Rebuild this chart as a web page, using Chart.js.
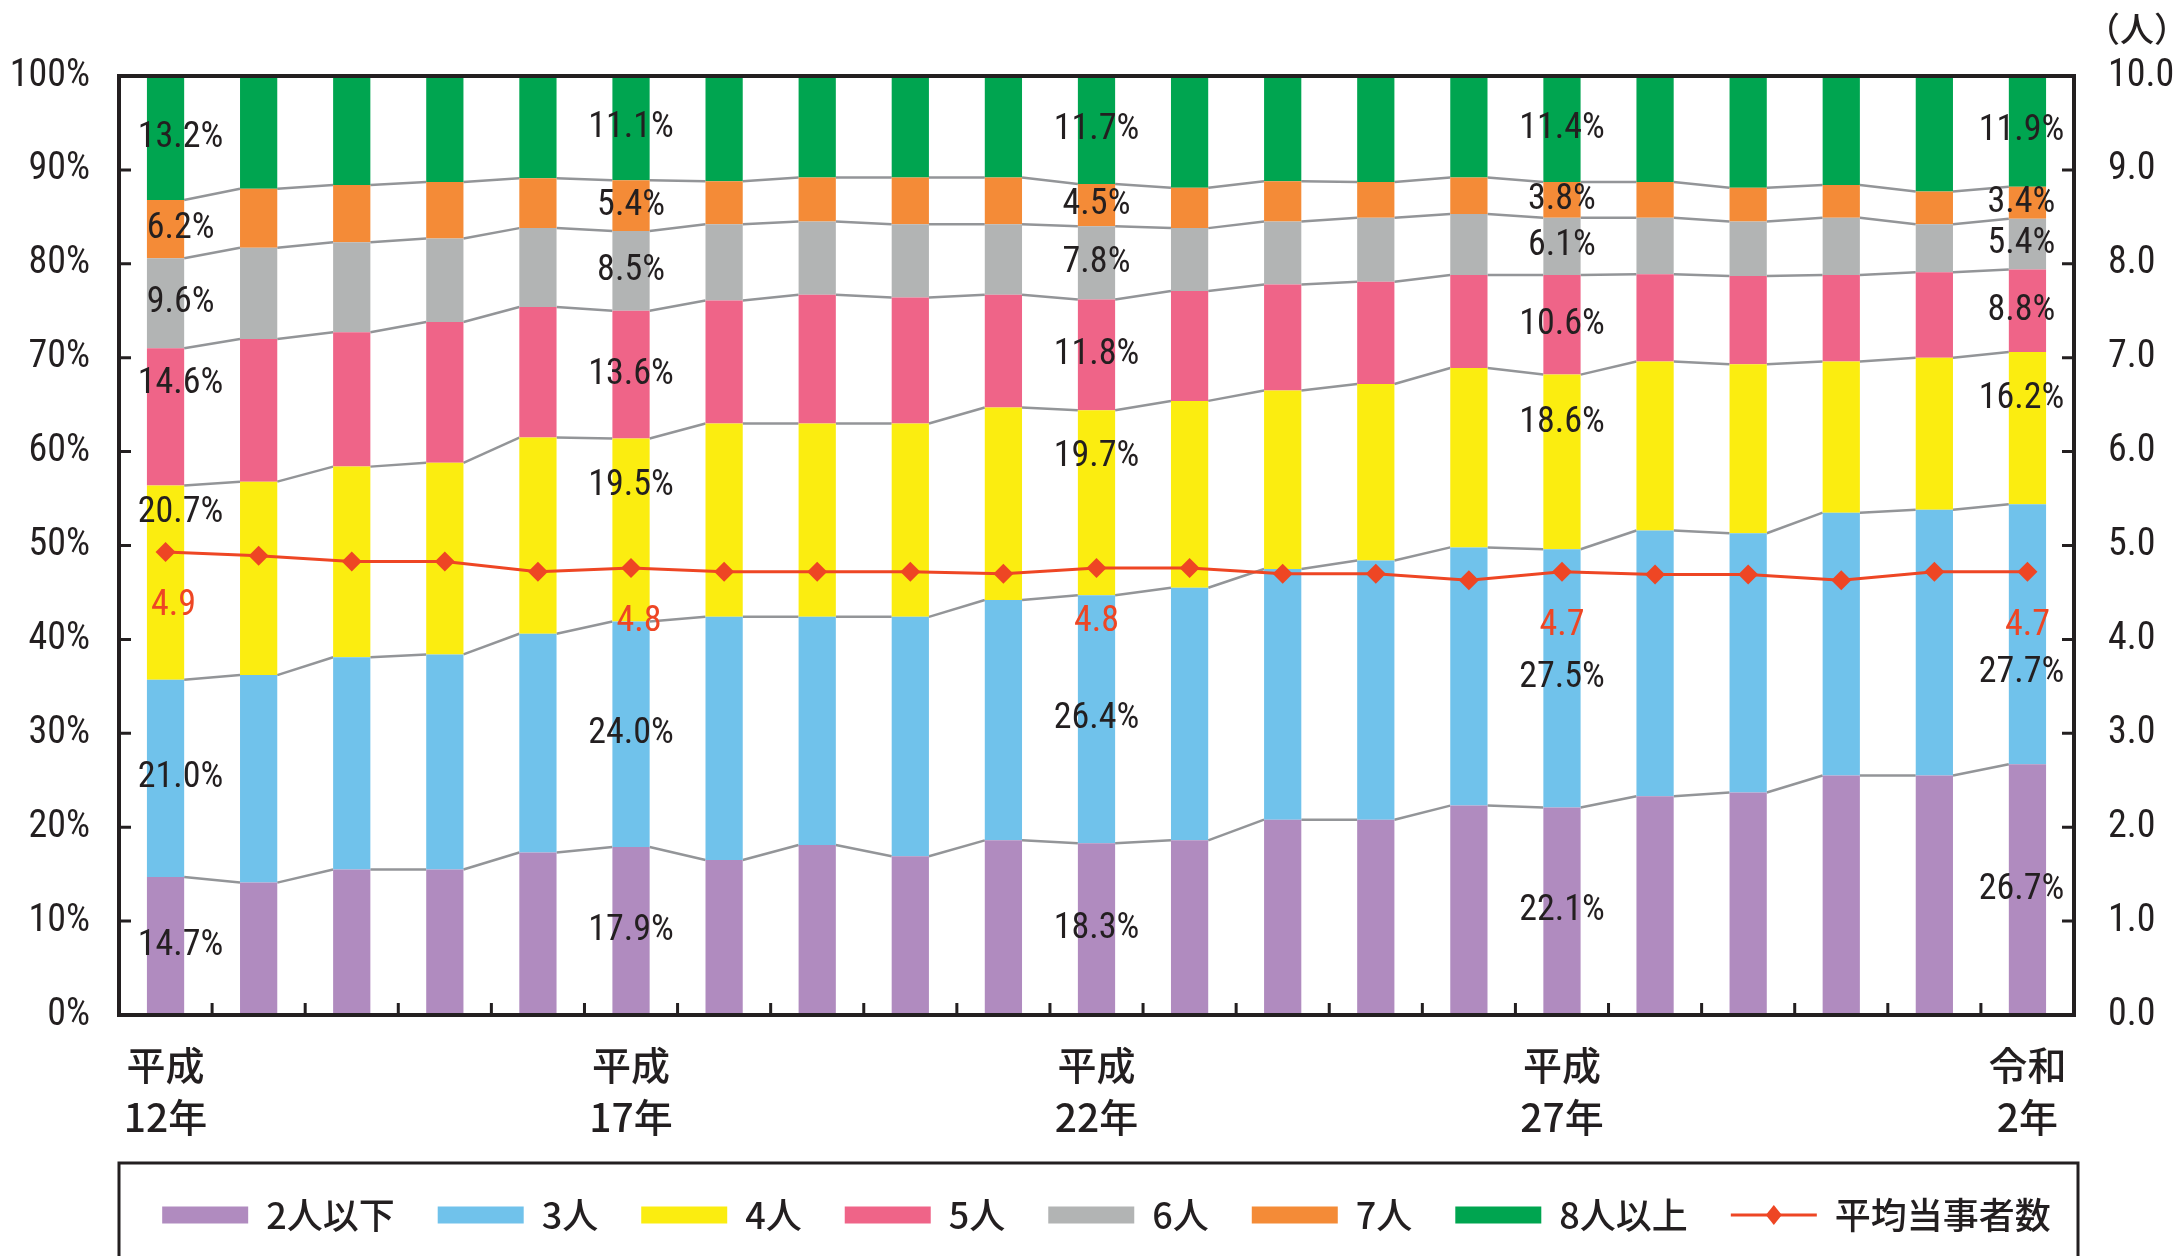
<!DOCTYPE html>
<html lang="ja">
<head>
<meta charset="utf-8">
<title>当事者数別構成比の推移</title>
<script src="https://cdn.jsdelivr.net/npm/chart.js@4.4.1/dist/chart.umd.min.js"></script>
<style>
  html, body { margin: 0; padding: 0; background: #fff; }
  #wrap { width: 2177px; height: 1256px; }
</style>
</head>
<body>
<div id="wrap"><canvas id="partyChart" width="2177" height="1256"></canvas></div>
<script>
// 年次（平成12年〜令和2年）
const years = [
    ['平成', '12年'], ['平成', '13年'], ['平成', '14年'], ['平成', '15年'], ['平成', '16年'],
    ['平成', '17年'], ['平成', '18年'], ['平成', '19年'], ['平成', '20年'], ['平成', '21年'],
    ['平成', '22年'], ['平成', '23年'], ['平成', '24年'], ['平成', '25年'], ['平成', '26年'],
    ['平成', '27年'], ['平成', '28年'], ['平成', '29年'], ['平成', '30年'], ['令和', '元年'],
    ['令和', '2年']
];

// 構成比（%）
const twoOrLess = [14.7, 14.1, 15.5, 15.5, 17.3, 17.9, 16.5, 18.1, 16.9, 18.6, 18.3, 18.6, 20.8, 20.8, 22.3, 22.1, 23.3, 23.7, 25.5, 25.5, 26.7];
const three     = [21.0, 22.1, 22.6, 22.9, 23.3, 24.0, 25.9, 24.3, 25.5, 25.6, 26.4, 26.9, 26.7, 27.6, 27.5, 27.5, 28.3, 27.6, 28.0, 28.3, 27.7];
const four      = [20.7, 20.6, 20.3, 20.4, 20.9, 19.5, 20.6, 20.6, 20.6, 20.5, 19.7, 19.9, 19.0, 18.8, 19.1, 18.6, 18.0, 18.0, 16.1, 16.2, 16.2];
const five      = [14.6, 15.2, 14.3, 15.0, 13.9, 13.6, 13.1, 13.7, 13.4, 12.0, 11.8, 11.7, 11.3, 10.9, 9.9, 10.6, 9.3, 9.4, 9.2, 9.1, 8.8];
const six       = [9.6, 9.7, 9.6, 8.9, 8.4, 8.5, 8.1, 7.8, 7.8, 7.5, 7.8, 6.7, 6.7, 6.8, 6.5, 6.1, 6.0, 5.8, 6.1, 5.1, 5.4];
const seven     = [6.2, 6.3, 6.1, 6.0, 5.3, 5.4, 4.6, 4.7, 5.0, 5.0, 4.5, 4.3, 4.3, 3.8, 3.9, 3.8, 3.8, 3.6, 3.5, 3.5, 3.4];
const eightPlus = [13.2, 12.0, 11.6, 11.3, 10.9, 11.1, 11.2, 10.8, 10.8, 10.8, 11.7, 11.9, 11.2, 11.3, 10.8, 11.4, 11.3, 11.9, 11.6, 12.3, 11.9];

// 平均当事者数（人）
const avgParties = [4.93, 4.89, 4.83, 4.83, 4.72, 4.76, 4.72, 4.72, 4.72, 4.70, 4.76, 4.76, 4.70, 4.70, 4.63, 4.72, 4.69, 4.69, 4.63, 4.72, 4.72];

// 軸目盛
const percentTicks = [0, 10, 20, 30, 40, 50, 60, 70, 80, 90, 100];
const personTicks = [0, 1, 2, 3, 4, 5, 6, 7, 8, 9, 10];

// 値ラベルを付ける年（5年ごと）
const labeledYears = [0, 5, 10, 15, 20];

const seriesNames = ['2人以下', '3人', '4人', '5人', '6人', '7人', '8人以上'];
const seriesData = [twoOrLess, three, four, five, six, seven, eightPlus];
const seriesColors = ['#b08bbf', '#70c2eb', '#fbed10', '#ef6488', '#b2b4b4', '#f48b37', '#00a550'];
const avgColor = '#ee4624';
const inkColor = '#231f20';

const NUM_FONT = "Roboto, 'Noto Sans CJK JP', sans-serif";
const NUM_WEIGHT = 'normal condensed';
const JP_FONT = "'Noto Sans CJK JP', 'Noto Sans CJK SC', sans-serif";

// 個別ラベル位置の微調整（px）: "年index,系列index"
const labelNudgeY = { '0,2': -70, '0,3': -33, '5,2': -44, '10,2': -46, '15,2': -39, '20,2': -29, '20,1': 39 };
const labelNudgeX = { 0: 15, 20: -6 };

const LINE_INDEX = seriesNames.length;

// Connector lines between neighbouring bars, plus frame, inward ticks and labels
const decorPlugin = {
    id: 'decor',
    beforeDatasetsDraw(chart) {
        const ctx = chart.ctx;
        ctx.save();
        ctx.strokeStyle = '#939598';
        ctx.lineWidth = 2.5;
        for (let k = 0; k < seriesNames.length - 1; k++) {
            const meta = chart.getDatasetMeta(k);
            for (let i = 0; i < meta.data.length - 1; i++) {
                const a = meta.data[i].getProps(['x', 'y', 'width'], true);
                const b = meta.data[i + 1].getProps(['x', 'y', 'width'], true);
                ctx.beginPath();
                ctx.moveTo(a.x + a.width / 2, a.y);
                ctx.lineTo(b.x - b.width / 2, b.y);
                ctx.stroke();
            }
        }
        ctx.restore();
    },
    afterDatasetsDraw(chart) {
        const ctx = chart.ctx;
        const area = chart.chartArea;
        const yScale = chart.scales.y;
        const y1Scale = chart.scales.y1;
        ctx.save();

        // inward tick marks
        ctx.strokeStyle = inkColor;
        ctx.lineWidth = 3;
        ctx.beginPath();
        percentTicks.slice(1, -1).forEach(v => {
            const py = yScale.getPixelForValue(v);
            ctx.moveTo(area.left, py);
            ctx.lineTo(area.left + 12, py);
        });
        personTicks.slice(1, -1).forEach(v => {
            const py = y1Scale.getPixelForValue(v);
            ctx.moveTo(area.right, py);
            ctx.lineTo(area.right - 12, py);
        });
        const xScale = chart.scales.x;
        for (let i = 0; i < years.length - 1; i++) {
            const px = (xScale.getPixelForValue(i) + xScale.getPixelForValue(i + 1)) / 2;
            ctx.moveTo(px, area.bottom);
            ctx.lineTo(px, area.bottom - 12);
        }
        ctx.stroke();

        // frame
        ctx.lineWidth = 4;
        ctx.strokeRect(area.left, area.top, area.right - area.left, area.bottom - area.top);

        // percentage labels
        ctx.font = NUM_WEIGHT + ' 36px ' + NUM_FONT;
        ctx.fillStyle = inkColor;
        ctx.textAlign = 'center';
        ctx.textBaseline = 'middle';
        labeledYears.forEach(i => {
            seriesData.forEach((data, k) => {
                const el = chart.getDatasetMeta(k).data[i].getProps(['x', 'y', 'base'], true);
                const top = Math.max(el.y, area.top);
                const cy = (top + el.base) / 2 + (labelNudgeY[i + ',' + k] || 0);
                const cx = el.x + (labelNudgeX[i] || 0);
                ctx.fillText(data[i].toFixed(1) + '%', cx, cy);
            });
        });

        // average labels
        ctx.fillStyle = avgColor;
        const lineMeta = chart.getDatasetMeta(LINE_INDEX);
        labeledYears.forEach(i => {
            const pt = lineMeta.data[i];
            const dx = (i === 0 || i === 5) ? 8 : 0;
            ctx.fillText(avgParties[i].toFixed(1), pt.x + dx, pt.y + 54);
        });

        // unit of the right axis
        ctx.fillStyle = inkColor;
        ctx.font = '500 34px ' + JP_FONT;
        ctx.textAlign = 'left';
        ctx.fillText('（人）', area.right + 12, 29);
        ctx.restore();
    },
    afterDraw(chart) {
        const ctx = chart.ctx;
        const legend = chart.legend;
        const area = chart.chartArea;
        const idx = legend.legendItems.findIndex(it => it.datasetIndex === LINE_INDEX);
        if (idx < 0) return;
        const box = legend.legendHitBoxes[idx];
        const cy = box.top + box.height / 2;
        ctx.save();
        // line sample with diamond marker
        ctx.strokeStyle = avgColor;
        ctx.fillStyle = avgColor;
        ctx.lineWidth = 3;
        ctx.beginPath();
        ctx.moveTo(box.left, cy);
        ctx.lineTo(box.left + 86, cy);
        ctx.stroke();
        const mx = box.left + 43;
        ctx.beginPath();
        ctx.moveTo(mx, cy - 10);
        ctx.lineTo(mx + 8, cy);
        ctx.lineTo(mx, cy + 10);
        ctx.lineTo(mx - 8, cy);
        ctx.closePath();
        ctx.fill();
        // legend frame
        ctx.strokeStyle = inkColor;
        ctx.lineWidth = 3;
        ctx.strokeRect(area.left, cy - 52, area.right - area.left + 4, chart.height);
        ctx.restore();
    }
};

const barDatasets = seriesNames.map((name, k) => ({
    type: 'bar',
    label: name,
    data: seriesData[k],
    backgroundColor: seriesColors[k],
    borderWidth: 0,
    stack: 'share',
    yAxisID: 'y',
    barPercentage: 0.4,
    categoryPercentage: 1.0,
    order: 2
}));

const lineDataset = {
    type: 'line',
    label: '平均当事者数',
    data: avgParties,
    yAxisID: 'y1',
    borderColor: avgColor,
    backgroundColor: avgColor,
    borderWidth: 3,
    pointStyle: 'rectRot',
    pointRadius: 10,
    pointBorderWidth: 0,
    tension: 0,
    order: 1
};

const ctx = document.getElementById('partyChart');
const chart = new Chart(ctx, {
    type: 'bar',
    data: {
        labels: years,
        datasets: [...barDatasets, lineDataset]
    },
    options: {
        responsive: false,
        animation: false,
        devicePixelRatio: 1,
        // negative right padding centres the full-width legend like the original
        layout: { padding: { top: 76, bottom: 13, left: 0, right: -36 } },
        scales: {
            x: {
                stacked: true,
                grid: { display: false, drawTicks: false },
                border: { display: false },
                afterFit: scale => { scale.height = 139; },
                ticks: {
                    autoSkip: false,
                    maxRotation: 0,
                    padding: 24,
                    color: inkColor,
                    font: { family: JP_FONT, weight: '500', size: 39, lineHeight: 1.33 },
                    callback: function(value, index) {
                        return index % 5 === 0 ? this.getLabelForValue(value) : '';
                    }
                }
            },
            y: {
                stacked: true,
                min: 0,
                max: 100,
                grid: { display: false, drawTicks: false },
                border: { display: false },
                afterFit: scale => { scale.width = 119; },
                ticks: {
                    stepSize: 10,
                    padding: 29,
                    color: inkColor,
                    font: { family: NUM_FONT, weight: NUM_WEIGHT, size: 38 },
                    callback: v => v + '%'
                }
            },
            y1: {
                position: 'right',
                min: 0,
                max: 10,
                grid: { display: false, drawTicks: false },
                border: { display: false },
                afterFit: scale => { scale.width = 139; },
                ticks: {
                    stepSize: 1,
                    padding: 34,
                    color: inkColor,
                    font: { family: NUM_FONT, weight: NUM_WEIGHT, size: 38 },
                    callback: v => v.toFixed(1)
                }
            }
        },
        plugins: {
            tooltip: { enabled: false },
            legend: {
                position: 'bottom',
                labels: {
                    boxWidth: 86,
                    boxHeight: 17,
                    padding: 43,
                    color: inkColor,
                    font: { family: JP_FONT, weight: '500', size: 36 },
                    sort: (a, b) => a.datasetIndex - b.datasetIndex,
                    generateLabels: function(chart) {
                        const items = Chart.defaults.plugins.legend.labels.generateLabels(chart);
                        items.forEach(it => {
                            it.lineWidth = 0;
                            if (it.datasetIndex === LINE_INDEX) {
                                it.fillStyle = 'rgba(0,0,0,0)';
                                it.strokeStyle = 'rgba(0,0,0,0)';
                            }
                        });
                        return items;
                    }
                }
            }
        }
    },
    plugins: [decorPlugin]
});
</script>
</body>
</html>
